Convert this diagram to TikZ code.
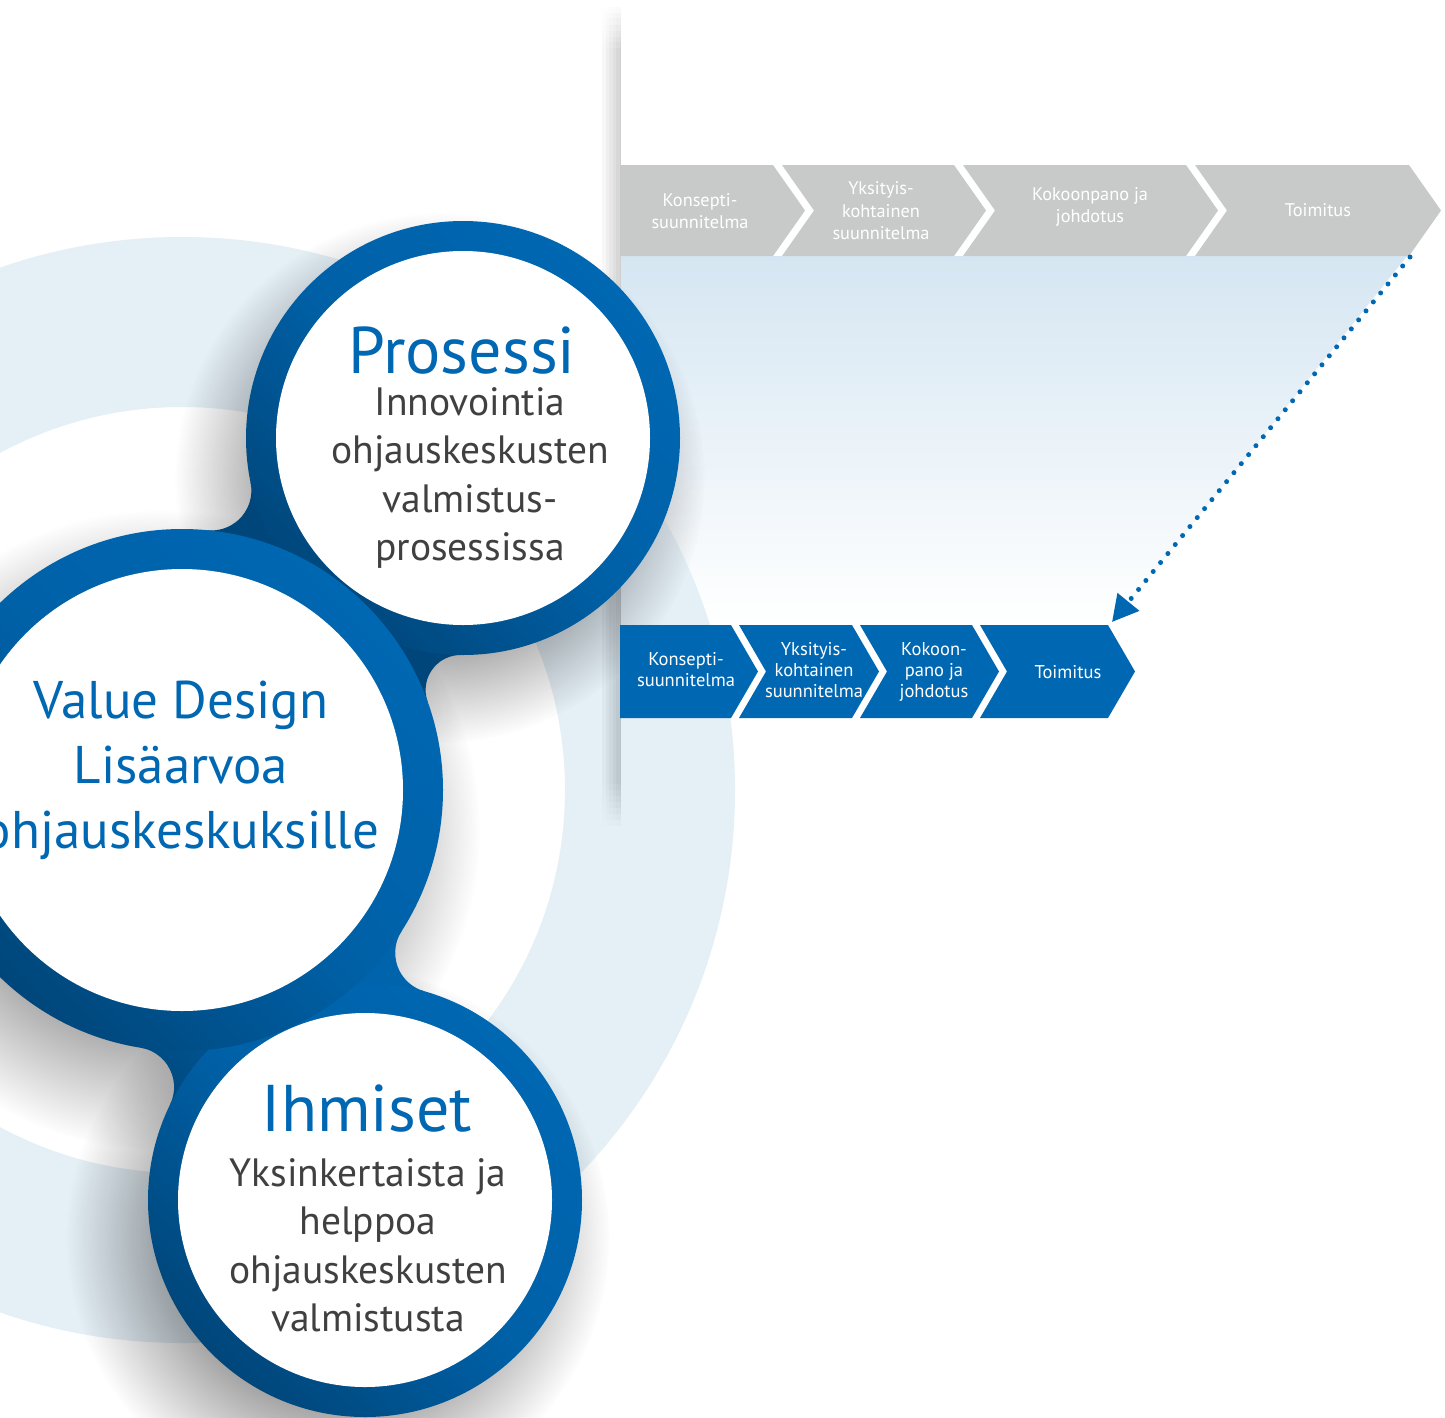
\documentclass[tikz,border=0pt]{standalone}
\usepackage{fontspec}
\setmainfont{PT Sans}
\usetikzlibrary{arrows.meta}
\usetikzlibrary{fadings}

\definecolor{mainblue}{RGB}{0,103,178}
\definecolor{darkblue}{RGB}{0,70,122}
\definecolor{ringblue}{RGB}{228,239,246}
\definecolor{fadeblue}{RGB}{213,230,242}
\definecolor{chevgrey}{RGB}{200,201,201}
\definecolor{textgrey}{RGB}{64,64,64}

\pgfdeclareradialshading{shadowmask}{\pgfpointorigin}{color(0bp)=(white); color(13bp)=(white); color(25bp)=(black); color(50bp)=(black)}
\pgfdeclarefading{softdisk}{\pgfuseshading{shadowmask}}
\tikzfading[name=stripfade, left color=transparent!100, right color=transparent!0]

\begin{document}
\begin{tikzpicture}[x=1pt, y=-1pt, >=Latex,
	bluering/.style={top color=mainblue, bottom color=darkblue, middle color=mainblue!80!darkblue, shading angle=-45},
	shadowdisk/.style={black, opacity=0.45, path fading=softdisk},
	title/.style={text=mainblue, inner sep=0pt, font=\fontsize{66}{70}\selectfont},
	body/.style={text=textgrey, inner sep=0pt, align=center, font=\fontsize{39.5}{48.5}\selectfont},
	vdtext/.style={text=mainblue, inner sep=0pt, align=center, font=\fontsize{53}{65}\selectfont},
	greytext/.style={text=white, inner sep=0pt, align=center, font=\fontsize{18.3}{22.5}\selectfont},
	bluetext/.style={text=white, inner sep=0pt, align=center, font=\fontsize{18.5}{21}\selectfont}]
	\useasboundingbox (0,0) rectangle (1445,1417);
	\clip (0,0) rectangle (1445,1417);
	\fill[white] (0,0) rectangle (1445,1417);
	%%%	Centri
	\coordinate (pc) at (463,438);
	\coordinate (vc) at (182,790);
	\coordinate (hc) at (365,1200);
	%%%	Sfondo
	\shade[top color=fadeblue, bottom color=white] (621,256) -- (1407,256) -- (1112,625) -- (621,625) -- cycle;
	\fill[ringblue, even odd rule] (vc) circle (553) (vc) circle (383);
	\fill[shadowdisk] (440,478) circle (265);
	\fill[shadowdisk] (160,830) circle (320);
	\fill[shadowdisk] (338,1238) circle (272);
	\foreach \k in {1,...,8}
		\fill[black, opacity=0.022, path fading=stripfade] (600,{6*\k}) rectangle (621,{832-6*\k});
	%%%	Frecce grigie
	\fill[chevgrey] (620,165) -- (773,165) -- (805,210.5) -- (773,256) -- (620,256) -- cycle;
	\foreach \l/\r in {782/954, 963/1186, 1195/1409}
		\fill[chevgrey] (\l,165) -- (\r,165) -- ({\r+32},210.5) -- (\r,256) -- (\l,256) -- ({\l+32},210.5) -- cycle;
	\node[greytext] (gkonsepti) at (700,211) {Konsepti-\\suunnitelma};
	\node[greytext] (gyksityis) at (881,211) {Yksityis-\\kohtainen\\suunnitelma};
	\node[greytext] (gkokoonpano) at (1090,207) {Kokoonpano ja\\johdotus};
	\node[greytext] (gtoimitus) at (1318,210) {Toimitus};
	%%%	Frecce blu
	\fill[mainblue] (620,625) -- (731,625) -- (758,671.5) -- (731,718) -- (620,718) -- cycle;
	\foreach \l/\r in {739/852, 860/972, 980/1108}
		\fill[mainblue] (\l,625) -- (\r,625) -- ({\r+27},671.5) -- (\r,718) -- (\l,718) -- ({\l+27},671.5) -- cycle;
	\node[bluetext] (bkonsepti) at (686,670) {Konsepti-\\suunnitelma};
	\node[bluetext] (byksityis) at (814,670) {Yksityis-\\kohtainen\\suunnitelma};
	\node[bluetext] (bkokoonpano) at (934,672) {Kokoon-\\pano ja\\johdotus};
	\node[bluetext] (btoimitus) at (1068,672) {Toimitus};
	%%%	Freccia tratteggiata
	\coordinate (arrowtop) at (1410,257);
	\coordinate (arrowtip) at (1112,622);
	\draw[mainblue, line width=5pt, line cap=round, dash pattern=on 0pt off 11.6pt,
		-{Triangle[length=26pt, width=27pt]}] (arrowtop) -- (arrowtip);
	%%%	Cerchi
	\fill[darkblue] (pc) -- (250.56,482.28) arc[start angle=-11.77, end angle=95.61, radius=40]
		-- (vc) -- (427.65,701.82) arc[start angle=160.25, end angle=270.55, radius=35] -- cycle;
	\shade[bluering] (vc) -- (401.54,931.13) arc[start angle=212.74, end angle=105.85, radius=40]
		-- (hc) -- (170.03,1104.72) arc[start angle=26.05, end angle=-80.84, radius=40] -- cycle;
	\shade[bluering] (pc) circle (217);
	\shade[bluering] (hc) circle (217);
	\shade[bluering] (vc) circle (261);
	\fill[white] (pc) circle (187);
	\fill[white] (vc) circle (221);
	\fill[white] (hc) circle (187);
	%%%	Testi
	\node[title, anchor=base] (prosessi) at (462,373) {Prosessi};
	\node[body] (prosessitext) at (470,478) {Innovointia\\ohjauskeskusten\\valmistus-\\prosessissa};
	\node[vdtext] (valuedesign) at (181,770) {Value Design\\Lisäarvoa\\ohjauskeskuksille};
	\node[title, anchor=base] (ihmiset) at (367,1131) {Ihmiset};
	\node[body] (ihmisettext) at (368,1245) {Yksinkertaista ja\\helppoa\\ohjauskeskusten\\valmistusta};
\end{tikzpicture}
\end{document}
